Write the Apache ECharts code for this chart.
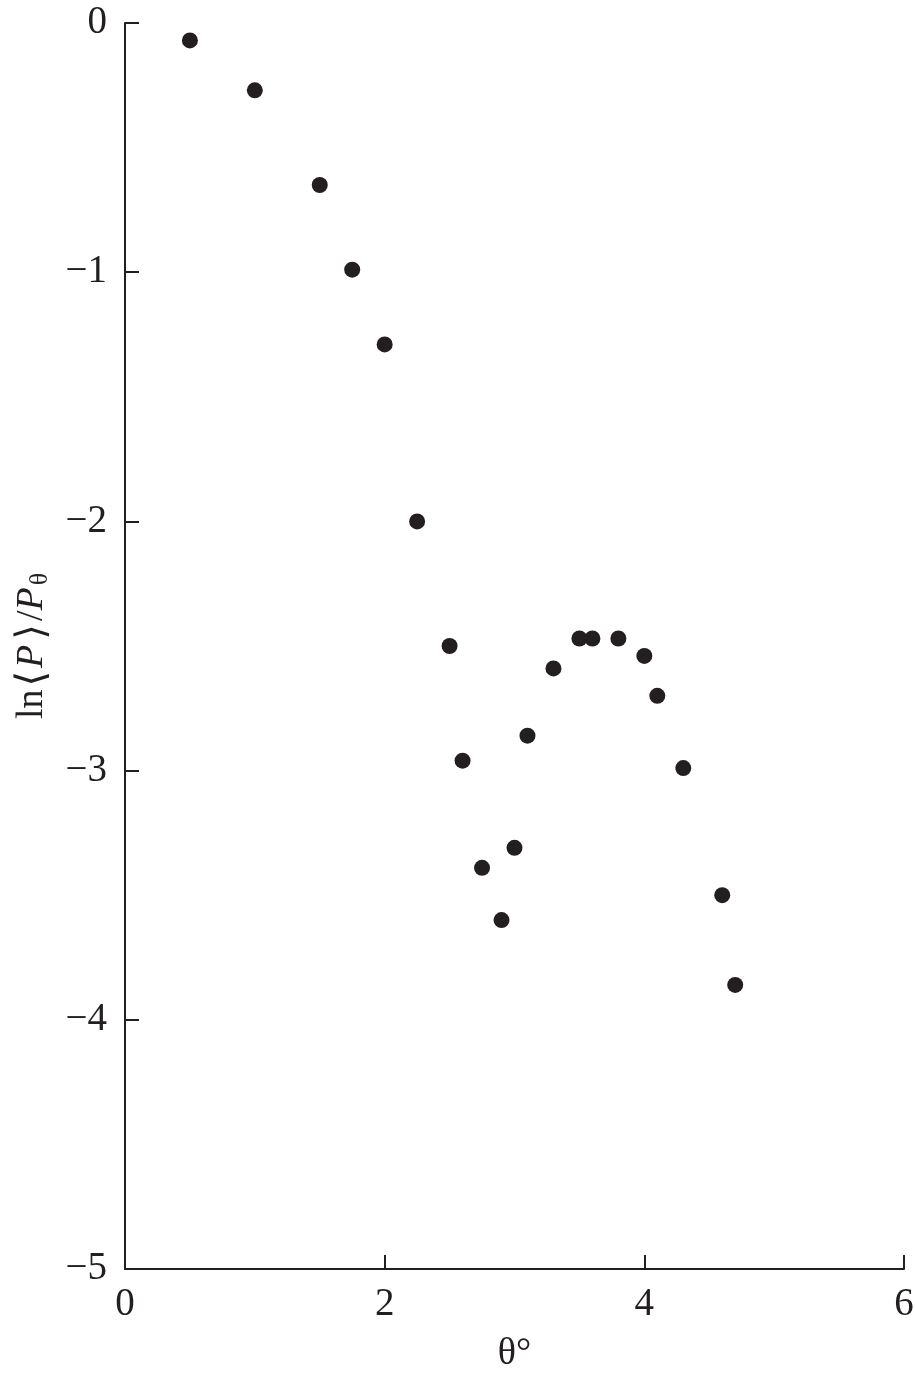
<!DOCTYPE html>
<html>
<head>
<meta charset="utf-8">
<script src="https://cdn.jsdelivr.net/npm/echarts@6/dist/echarts.min.js"></script>
<style>
  html, body { margin: 0; padding: 0; background: #fff; }
  #chart { width: 915px; height: 1376px; }
</style>
</head>
<body>
<div id="chart"></div>
<script>
// 数据点：θ° 与 ln<P>/Pθ
var thetaValues = [0.5, 1.0, 1.5, 1.75, 2.0, 2.25, 2.5, 2.6, 2.75, 2.9, 3.0, 3.1, 3.3, 3.5, 3.6, 3.8, 4.0, 4.1, 4.3, 4.6, 4.7];
var lnValues = [-0.07, -0.27, -0.65, -0.99, -1.29, -2.0, -2.5, -2.96, -3.39, -3.6, -3.31, -2.86, -2.59, -2.47, -2.47, -2.47, -2.54, -2.7, -2.99, -3.5, -3.86];
var xTicks = [0, 2, 4, 6];
var yTicks = [0, -1, -2, -3, -4, -5];

var points = thetaValues.map(function (t, i) { return [t, lnValues[i]]; });

var chart = echarts.init(document.getElementById('chart'));
var serif = '"Liberation Serif", "DejaVu Serif", serif';
var ink = '#231f20';

function minusLabel(v) {
  return v < 0 ? '\u2212' + Math.abs(v) : String(v);
}

var option = {
  animation: false,
  backgroundColor: '#fff',
  grid: { left: 125, right: 11, top: 23, bottom: 107, containLabel: false, outerBoundsMode: 'none' },
  xAxis: {
    type: 'value',
    min: xTicks[0],
    max: xTicks[xTicks.length - 1],
    interval: 2,
    name: '\u03b8\u00b0',
    nameLocation: 'middle',
    nameGap: 66,
    nameTextStyle: { fontFamily: serif, fontSize: 38, color: ink },
    axisLine: { onZero: false, lineStyle: { color: ink, width: 2 } },
    axisTick: { inside: true, length: 14, lineStyle: { color: ink, width: 2 } },
    axisLabel: { fontFamily: serif, fontSize: 39, color: ink, margin: 16, formatter: minusLabel },
    splitLine: { show: false }
  },
  yAxis: {
    type: 'value',
    min: yTicks[yTicks.length - 1],
    max: yTicks[0],
    interval: 1,
    name: '{n|ln}{b|\u27e8}{i|P}{b|\u27e9}{n|/}{i|P}{s|\u03b8}',
    nameLocation: 'middle',
    nameGap: 72,
    nameTextStyle: {
      fontFamily: serif, fontSize: 38, color: ink,
      rich: {
        n: { fontFamily: serif, fontSize: 38, lineHeight: 40, verticalAlign: 'top', color: ink },
        b: { fontFamily: serif, fontSize: 40, lineHeight: 40, verticalAlign: 'top', color: ink, padding: [0, 3, 0, 3] },
        i: { fontFamily: serif, fontSize: 38, lineHeight: 40, verticalAlign: 'top', fontStyle: 'italic', color: ink, padding: [0, 2, 0, 0] },
        s: { fontFamily: serif, fontSize: 26, lineHeight: 26, color: ink, verticalAlign: 'bottom', padding: [22, 0, 0, 0] }
      }
    },
    axisLine: { onZero: false, lineStyle: { color: ink, width: 2 } },
    axisTick: { inside: true, length: 14, lineStyle: { color: ink, width: 2 } },
    axisLabel: { fontFamily: serif, fontSize: 39, color: ink, margin: 18, formatter: minusLabel },
    splitLine: { show: false }
  },
  series: [{
    type: 'scatter',
    data: points,
    symbol: 'circle',
    symbolSize: 16,
    itemStyle: { color: ink, opacity: 1 }
  }]
};

chart.setOption(option);
</script>
</body>
</html>
